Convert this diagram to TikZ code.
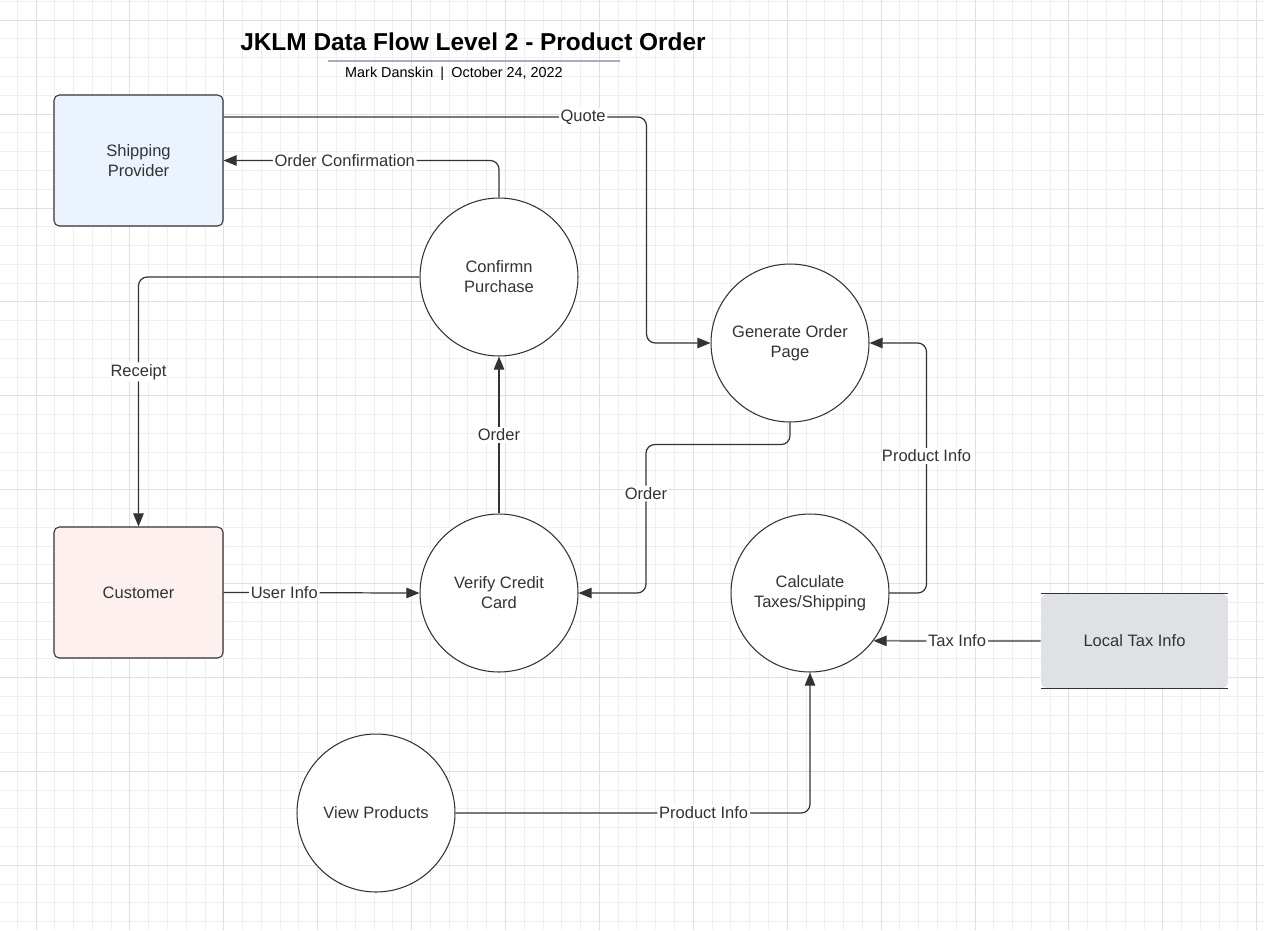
\documentclass[tikz,border=0pt]{standalone}
\usepackage{fontspec}
\setmainfont{Liberation Sans}
\usepackage{xcolor}
\usetikzlibrary{arrows.meta}
\definecolor{ink}{HTML}{333333}
\definecolor{shipblue}{HTML}{EBF3FE}
\definecolor{custpink}{HTML}{FEF0EF}
\definecolor{storegray}{HTML}{DFE1E5}
\definecolor{rulegray}{HTML}{ABABC3}
\definecolor{gridlight}{HTML}{EFEFEF}
\definecolor{griddark}{HTML}{E0E0E0}

\begin{document}
\begin{tikzpicture}[x=0.02cm,y=-0.02cm,>={Triangle[length=7.5pt,width=6pt]},
  font=\fontsize{9.4}{11.3}\selectfont,text=ink,
  proc/.style={circle,draw=ink,fill=white,line width=0.6pt,minimum size=3.16cm,inner sep=0pt,align=center},
  ext/.style={draw=ink,rounded corners=3pt,line width=0.6pt,minimum width=3.38cm,minimum height=2.62cm,align=center},
  store/.style={fill=storegray,rounded corners=3pt,minimum width=3.74cm,minimum height=1.88cm},
  flow/.style={->,draw=ink,line width=0.7pt,rounded corners=5pt},
  lbl/.style={fill=white,inner sep=1pt},
  minorgrid/.style={draw=gridlight,line width=0.55pt},
  majorgrid/.style={draw=griddark,line width=0.55pt}]
\useasboundingbox (0,0) rectangle (1264,930);
% grid
\foreach \k in {-1,...,65} \draw[minorgrid] ({36+18.78*\k},0) -- ({36+18.78*\k},930);
\foreach \k in {-1,...,48} \draw[minorgrid] (0,{20.2+18.78*\k}) -- (1264,{20.2+18.78*\k});
\foreach \k in {0,5,...,65} \draw[majorgrid] ({36+18.78*\k},0) -- ({36+18.78*\k},930);
\foreach \k in {0,5,...,45} \draw[majorgrid] (0,{20.2+18.78*\k}) -- (1264,{20.2+18.78*\k});
% title
\node[text=black,font=\fontsize{13.9}{16}\selectfont\bfseries] (title) at (473,42) {JKLM Data Flow Level 2 - Product Order};
\draw[rulegray,line width=1pt] (328,61) -- (620,61);
\node[text=black,font=\fontsize{8.2}{10}\selectfont] (sub) at (454,73.5) {Mark Danskin\enspace|\enspace October 24, 2022};
% entities and store
\node[ext,fill=shipblue] (ship) at (138.5,160.5) {Shipping\\Provider};
\node[ext,fill=custpink] (cust) at (138.5,592.5) {Customer};
\node[store] (tax) at (1134.5,641) {Local Tax Info};
\draw[ink,line width=0.7pt] (tax.north west) -- (tax.north east);
\draw[ink,line width=0.7pt] (tax.south west) -- (tax.south east);
% processes
\node[proc] (conf) at (499,277) {Confirmn\\Purchase};
\node[proc] (gen) at (790,343) {Generate Order\\Page};
\node[proc] (ver) at (499,593) {Verify Credit\\Card};
\node[proc] (calc) at (810,593) {Calculate\\Taxes/Shipping};
\node[proc] (view) at (376,813) {View Products};
% flows
\draw[flow] ([yshift=0.87cm]ship.east) -- node[lbl,pos=0.85] {Quote} ++(423,0) |- (gen.west);
\draw[flow] (conf.north) |- node[lbl,pos=0.78] {Order Confirmation} (ship.east);
\draw[flow] (conf.west) -| node[lbl,pos=0.69] {Receipt} (cust.north);
\draw[flow] (cust.east) -- node[lbl,pos=0.31] {User Info} (ver.west);
\draw[flow] (ver.north) -- node[lbl] {Order} (conf.south);
\draw[flow] (gen.south) -- ++(0,22) -- ++(-144,0) |- node[lbl,pos=0.165] {Order} (ver.east);
\draw[flow] (calc.east) -- ++(37,0) |- node[lbl,pos=0.274] {Product Info} (gen.east);
\draw[flow] (tax.west) -- node[lbl] {Tax Info} (calc.-37.4);
\draw[flow] (view.east) -| node[lbl,pos=0.35] {Product Info} (calc.south);
\end{tikzpicture}
\end{document}
